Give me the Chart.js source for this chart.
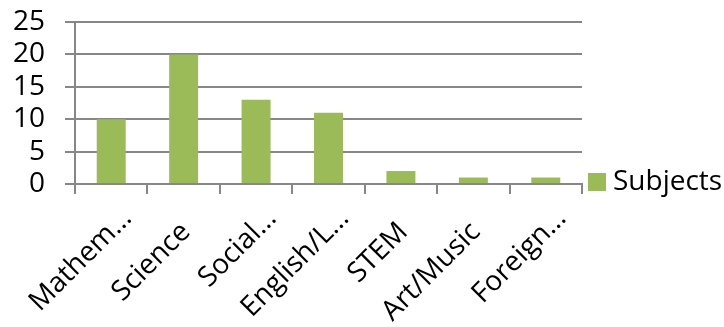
<!DOCTYPE html>
<html>
<head>
<meta charset="utf-8">
<script src="https://cdn.jsdelivr.net/npm/chart.js@4/dist/chart.umd.min.js"></script>
<style>
body { margin: 0; background: #fff; }
#wrap { width: 724px; height: 327px; }
</style>
</head>
<body>
<div id="wrap"><canvas id="subjChart" width="724" height="327"></canvas></div>
<script>
// values
const subjects = ['Mathem\u2026', 'Science', 'Social\u2026', 'English/L\u2026', 'STEM', 'Art/Music', 'Foreign\u2026'];
const counts = [10, 20, 13, 11, 2, 1, 1];
const yTicks = [0, 5, 10, 15, 20, 25];
const seriesName = 'Subjects';

const green = '#9BBB59';
const gray = '#878787';
const font = "'Open Sans', 'DejaVu Sans', sans-serif";

// legend drawn to the right of the plot, like the spreadsheet one
const sideLegend = {
    id: 'sideLegend',
    afterDraw(chart) {
        const ctx = chart.ctx;
        const ds = chart.data.datasets[0];
        const x = chart.chartArea.right + 6;
        const y = 173;
        ctx.save();
        ctx.fillStyle = ds.backgroundColor;
        ctx.fillRect(x, y, 18, 18);
        ctx.fillStyle = '#000';
        ctx.font = '28px ' + font;
        ctx.textBaseline = 'middle';
        ctx.textAlign = 'left';
        ctx.fillText(ds.label, x + 25, y + 9);
        ctx.restore();
    }
};

const ctx = document.getElementById('subjChart').getContext('2d');
new Chart(ctx, {
    type: 'bar',
    data: {
        labels: subjects,
        datasets: [{
            label: seriesName,
            data: counts,
            backgroundColor: green,
            categoryPercentage: 1,
            barPercentage: 0.4
        }]
    },
    options: {
        responsive: false,
        animation: false,
        layout: { padding: { top: 0, right: 142, left: 0, bottom: 0 } },
        plugins: {
            legend: { display: false },
            tooltip: { enabled: false }
        },
        scales: {
            x: {
                grid: { drawOnChartArea: false, color: gray, lineWidth: 2, tickLength: 10 },
                border: { color: gray, width: 2 },
                ticks: {
                    color: '#000',
                    font: { family: font, size: 28 },
                    minRotation: 45,
                    maxRotation: 45,
                    autoSkip: false,
                    padding: 8,
                    labelOffset: 16,
                    // full words sit further back along the slant than the cut ones
                    callback: function (v, i) {
                        const t = subjects[i];
                        return t.endsWith('\u2026') ? t : t + '  \u2009';
                    }
                },
                afterFit: s => {
                    s.height = 143;
                    s.paddingLeft = 0;
                    s.paddingRight = 0;
                }
            },
            y: {
                min: 0,
                max: 25,
                afterBuildTicks: s => { s.ticks = yTicks.map(v => ({ value: v })); },
                grid: { color: gray, lineWidth: 2, tickLength: 10 },
                border: { color: gray, width: 2 },
                ticks: {
                    color: '#000',
                    // small lineHeight so the top label does not push the plot down
                    font: { family: font, size: 28, lineHeight: 0.15 },
                    padding: 20,
                    autoSkip: false
                },
                afterFit: s => { s.width = 75; }
            }
        }
    },
    plugins: [sideLegend]
});
</script>
</body>
</html>
